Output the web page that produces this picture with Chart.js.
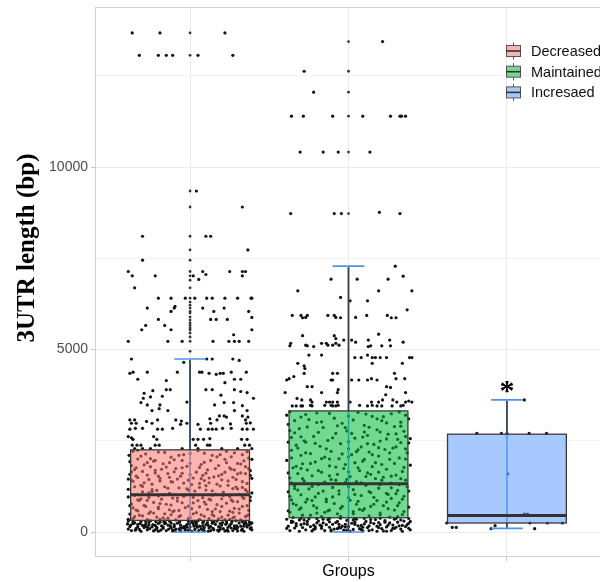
<!DOCTYPE html>
<html><head><meta charset="utf-8">
<script src="https://cdn.jsdelivr.net/npm/chart.js@4.4.0/dist/chart.umd.min.js"></script>
<style>html,body{margin:0;padding:0;background:#fff;overflow:hidden;width:600px;height:582px}
#wrap{position:absolute;left:0;top:0;width:606px;height:582px}</style>
</head><body><div id="wrap"><canvas id="c" width="606" height="582"></canvas></div>
<script>
const groups = ['Decreased', 'Maintained', 'Increased'];
const legendLabels = ['Decreased', 'Maintained', 'Incresaed'];
const q1 = [317, 391, 246];
const medians = [1020, 1321, 454];
const q3 = [2251, 3318, 2680];
const whiskerLow = [0, 0, 100];
const whiskerHigh = [4740, 7284, 3619];
const yTicks = [0, 2500, 5000, 7500, 10000, 12500];
const yLabelTicks = [0, 5000, 10000];
const yRange = [-685, 14385];
const xRange = [0.4, 3.6];
const significance = ['', '', '*'];

const decreasedOutliers = [13675, 13062, 9343, 8905, 8104, 7729, 7447, 7138, 7018, 6900, 6690, 6408, 6300, 6216, 6135, 6044, 6000, 5890, 5808, 5726, 5661, 5590, 5541, 5453, 5343, 5224, 4950];
const maintainedOutliers = [13437, 12625, 12050, 11394, 10410, 8725];
const increasedOutliers = [];

// [horizontal jitter offset, 3'UTR length]
const decreasedPoints = [
[-.365,13675],[-.19,13675],[.22,13675],[-.32,13062],[-.2,13062],[-.15,13062],[-.11,13062],[.05,13062],[.27,13062],
[.04,9343],[.33,8905],[-.3,8104],[.1,8104],[.13,8104],[.365,7729],[-.3,7447],
[-.39,7138],[.08,7138],[.25,7138],[.33,7138],[.35,7138],[-.365,7018],[-.22,7018],[.02,7018],[.33,7018],[.1,7056],[.055,6920],[-.35,6690],
[-.2,6408],[-.12,6408],[-.03,6408],[.03,6408],[.105,6408],[.14,6408],[.22,6408],[.3,6408],[.385,6408],[.39,6408],
[-.27,6135],[-.1,6135],[-.095,6180],[.08,6135],[.215,6135],[-.12,6044],[.15,6044],[.37,6044],
[-.2,5825],[.13,5825],[.165,5825],[.235,5825],[.39,5880],[-.28,5661],[-.16,5661],[-.305,5541],[-.12,5541],[.39,5541],[.275,5404],
[-.39,5224],[-.14,5224],[-.05,5224],[.145,5224],[.245,5224],[.28,5224],[.31,5224],[.37,5224],
[-.37,4740],[.105,4740],[.14,4740],[.27,4740],[.31,4700],[-.04,4650],
[-.38,4349],[-.36,4380],[-.27,4380],[-.08,4380],[.06,4380],[.075,4380],[.12,4349],[.165,4320],[.19,4349],[.21,4349],[.26,4380],[.355,4380],
[-.33,4185],[-.15,4150],[.28,4185],[.32,4185],[.22,4092],
[-.235,3873],[-.15,3900],[-.125,3900],[.1,3900],[.14,3900],[.28,3900],[.32,3850],[.36,3820],
[-.29,3802],[-.25,3700],[-.175,3720],[.195,3750],[-.295,3665],[.4,3665],
[-.31,3545],[-.02,3560],[.215,3545],[.275,3545],[-.27,3482],[-.19,3482],[.155,3482],[.33,3460],
[-.24,3327],[-.195,3380],[-.14,3327],[.28,3327],[.36,3327],[.185,3181],[.215,3181],[.23,3150],[.33,3181],[.365,3150],
[-.38,3071],[-.35,3071],[-.275,3030],[-.205,3071],[-.09,3071],[-.055,3040],[.125,3100],[.17,3071],[.35,3071],
[-.37,2980],[-.34,2980],[-.24,2980],[-.06,2950],[-.02,2980],[.05,2950],[.13,2980],[.255,2960],[.355,2980],[.38,2990],
[-.38,2817],[-.345,2840],[-.3,2840],[-.205,2817],[-.175,2817],[-.11,2840],[.065,2817],[.115,2817],[.14,2817],[.165,2817],[.205,2840],[.26,2840],[.33,2817],[.36,2817],[.4,2817],
[-.39,2615],[-.37,2580],[-.36,2540],[-.23,2615],[-.21,2540],[.02,2540],[.05,2540],[.085,2540],[.125,2560],[.325,2540],[.36,2540],
[-.365,2380],[-.335,2380],[-.31,2380],[-.22,2380],[-.195,2380],[.035,2380],[.11,2380],[.125,2380],[.345,2380],[.375,2380],
[-.35,2287],[-.3,2287],[-.25,2287],[-.05,2287],[.05,2287],[.2,2287],[.3,2287],[.39,2287],
[-.36,2210],[-.2,2190],[.05,2230],[.28,2170],[.33,2120],[-.31,2080],[-.12,2050],[.14,2100],[-.25,2010],[.22,1990],[.37,2030],[-.05,1960],
[-.38,1930],[.09,1910],[.3,1880],[-.17,1870],[-.29,1840],[.18,1820],[-.02,1800],[.35,1790],[-.34,1760],[-.09,1740],[.26,1720],[.11,1700],
[-.22,1690],[-.37,1650],[.04,1640],[.32,1620],[-.14,1600],[.2,1580],[-.27,1560],[.38,1550],[-.06,1530],[.15,1510],[-.33,1490],[-.19,1470],
[.07,1460],[.29,1440],[-.01,1420],[.24,1400],[-.36,1390],[-.11,1370],[.12,1350],[.36,1330],[-.24,1310],[.01,1300],[-.31,1280],[.19,1260],
[-.16,1240],[.33,1220],[-.07,1210],[.27,1190],[-.39,1170],[.1,1150],[-.21,1140],[.03,1120],[-.3,1100],[.21,1090],[.39,1070],[-.13,1060],
[.16,1040],[-.35,1000],[-.04,980],[.25,970],[-.26,950],[.08,940],[.34,920],[-.18,900],[.13,880],[-.32,860],[-.08,850],[.3,830],
[-.23,810],[.02,800],[.23,790],[-.37,770],[.17,750],[-.12,740],[.36,720],[-.28,700],[.06,690],[-.03,670],[.28,650],[-.2,640],
[.11,620],[-.34,600],[.37,590],[-.1,580],[.19,560],[-.25,550],[.04,530],[.31,520],[-.16,500],[-.38,490],[.14,480],[.24,460],
[-.06,450],[-.3,440],[.09,430],[.35,420],[-.21,410],[0,400],[.27,390],[-.14,380],[-.36,370],[.18,360],[.06,350],[-.27,340],[.32,335],[-.09,330],
[-.33,2240],[0,2150],[.17,2060],[-.1,1980],[.34,1950],[-.27,1900],[.07,1850],[-.15,1780],[.25,1760],[-.35,1710],[.38,1680],[-.05,1610],
[.3,1590],[-.2,1530],[.12,1480],[-.39,1450],[.2,1430],[-.12,1380],[.06,1330],[-.3,1250],[.29,1230],[-.02,1180],[.35,1160],[-.24,1110],
[.14,1010],[-.17,1020],[.38,960],[-.08,930],[.2,910],[-.33,880],[.05,860],[.27,840],[-.19,780],[.1,760],[-.29,730],[.33,700],
[-.01,710],[-.36,660],[.16,630],[-.13,610],[.25,570],[-.23,520],[.02,500],[.37,470],[-.32,460],[.15,440],[-.07,420],[.28,410],
[-.17,390],[.12,370],[-.39,350],[.22,340],[-.22,1960],[.1,1270],[-.26,1070],[.31,1030],[-.11,560],[.08,1550],[-.04,2120],[.23,2210],
[-.385,2100],[-.28,2140],[-.16,2180],[-.07,2100],[.09,2160],[.19,2120],[.26,2060],[.36,2200],
[-.33,2000],[-.23,1940],[-.13,1900],[0,1880],[.13,1960],[.23,1900],[.32,1860],[.39,1990],
[-.37,1820],[-.25,1790],[-.05,1760],[.06,1770],[.16,1740],[.28,1700],[.37,1740],[-.18,1720],
[-.3,1660],[-.1,1650],[.1,1610],[.22,1640],[.35,1600],[-.38,1580],[-.22,1620],[0,1570],
[-.34,1530],[-.13,1500],[.02,1480],[.18,1540],[.27,1500],[.39,1470],[-.26,1440],[-.08,1450],
[-.37,1420],[-.19,1400],[.09,1410],[.33,1380],[-.29,1350],[-.04,1340],[.17,1310],[.24,1280],
[-.35,1240],[-.14,1200],[.06,1220],[.3,1180],[-.24,1160],[-.01,1150],[.14,1130],[.36,1110],
[-.39,960],[-.2,990],[.02,950],[.21,1000],[.33,960],[-.11,930],[-.31,910],[.12,900],
[-.27,870],[.09,820],[.26,880],[-.05,800],[.38,860],[-.15,760],[-.38,720],[.2,700],
[-.2,680],[.01,640],[.31,630],[-.33,580],[-.07,590],[.14,560],[.27,540],[-.26,510],
[.07,470],[-.12,470],[.36,450],[-.35,420],[.2,410],[-.01,370],[.25,350],[-.19,350],
[-.39,300],[-.35,250],[-.31,290],[-.28,210],[-.25,310],[-.22,180],[-.19,270],[-.16,230],[-.13,300],[-.1,200],[-.07,260],[-.04,150],
[-.01,290],[.02,220],[.05,310],[.08,170],[.11,260],[.14,240],[.17,300],[.2,190],[.23,280],[.26,230],[.29,310],[.32,160],[.35,270],[.38,220],
[-.38,150],[-.34,100],[-.3,180],[-.27,60],[-.24,140],[-.21,90],[-.18,170],[-.15,40],[-.12,120],[-.09,80],[-.06,190],[-.03,50],
[0,140],[.03,70],[.06,160],[.09,30],[.12,110],[.15,60],[.18,150],[.21,90],[.24,130],[.27,40],[.3,120],[.33,80],[.36,140],[.39,60],
[-.37,40],[-.33,210],[-.29,120],[-.26,260],[-.23,30],[-.2,230],[-.17,100],[-.14,190],[-.11,60],[-.08,240],[-.05,110],[-.02,200],
[.01,20],[.04,250],[.07,90],[.1,200],[.13,40],[.16,210],[.19,120],[.22,30],[.25,180],[.28,100],[.31,250],[.34,20],[.37,190],
[-.395,220],[-.36,280],[-.32,70],[-.285,160],[-.255,90],[-.215,280],[-.185,50],[-.155,250],[-.125,170],[-.095,30],[-.065,290],[-.035,100],
[-.005,230],[.025,160],[.055,40],[.085,290],[.115,180],[.145,100],[.175,50],[.205,260],[.235,60],[.265,290],[.295,170],[.325,50],[.355,210],[.385,120],
[-.375,190],[-.345,50],[-.315,230],[-.27,130],[-.235,200],[-.2,20],[-.165,280],[-.135,80],[-.1,150],[-.06,30],[-.025,170],[.01,270],
[.045,130],[.08,250],[.115,20],[.15,280],[.19,70],[.225,210],[.26,110],[.3,30],[.34,230],[.375,270],
[-.39,80],[-.33,150],[-.28,290],[-.22,60],[-.17,140],[-.12,250],[-.07,80],[-.02,130],[.03,290],[.08,60],[.13,150],[.18,20],[.23,240],[.28,170],[.33,290],[.38,90],
[-.36,230],[-.31,20],[-.26,190],[-.21,130],[-.16,310],[-.11,30],[-.06,120],[-.01,50],[.04,190],[.09,120],[.14,300],[.19,230],[.24,20],[.29,90],[.34,160],[.39,250]
];

const maintainedPoints = [
[.215,13437],[-.28,12625],[-.22,12050],
[-.36,11394],[-.285,11394],[-.1,11394],[.09,11394],[.265,11394],[.325,11394],[.335,11394],[.36,11394],
[-.305,10410],[-.16,10410],[-.065,10410],[.135,10410],
[-.365,8725],[-.09,8725],[-.045,8725],[.195,8760],[.325,8725],
[.295,7284],[.345,7010],[-.11,6928],[.055,6928],[.25,6928],[-.32,6608],[.19,6608],[.4,6608],[-.05,6427],[.01,6335],[.12,6335],[.37,6088],
[-.355,5935],[-.3,5935],[-.26,5935],[-.13,5935],[-.09,5935],[-.08,5880],[.045,5880],[.115,5935],[.245,5935],
[-.29,5870],[-.27,5880],[-.05,5870],[.27,5870],[.3,5870],
[-.29,5378],[-.09,5378],[-.08,5300],[-.03,5260],[.02,5260],[.125,5260],[.19,5420],[.26,5260],
[-.365,5169],[-.37,5100],[-.27,5120],[-.26,5100],[-.22,5080],[-.17,5169],[-.14,5169],[-.13,5120],[-.1,5120],[-.08,5169],[-.06,5120],
[.045,5200],[.125,5080],[.14,5100],[.21,5100],[.265,5100],[.345,5200],
[-.25,4849],[-.17,4849],[.04,4780],[.08,4780],[.12,4849],[.15,4780],[.17,4780],[.2,4780],[.24,4780],[.385,4780],[.4,4780],
[-.32,4622],[-.28,4550],[-.275,4480],[.15,4622],[.34,4622],[-.28,4349],[-.1,4349],[-.07,4349],[.29,4349],
[-.39,4165],[-.375,4200],[-.345,4260],[-.11,4165],[-.1,4165],[.02,4165],[.065,4165],[.12,4165],[.145,4200],[.18,4165],[.3,4200],[.355,4200],
[-.26,3983],[-.23,3983],[-.065,3900],[.24,3983],[.265,3960],[-.4,3819],[-.17,3819],[-.07,3819],[.235,3760],[.36,3819],
[-.325,3660],[-.295,3618],[-.24,3618],[-.23,3560],[-.14,3560],[-.12,3560],[-.1,3560],[-.07,3560],[.01,3560],[.145,3560],[.19,3560],[.215,3618],
[.28,3618],[.305,3560],[.36,3560],[.38,3590],[.4,3560],
[-.355,3454],[-.33,3454],[-.3,3454],[-.29,3454],[-.24,3470],[-.23,3454],[-.15,3470],[-.11,3470],[-.1,3454],[-.08,3454],[-.065,3470],
[.07,3470],[.12,3454],[.15,3470],[.18,3454],[.21,3454],[.275,3454],[.33,3454],[.345,3470],
[-.37,3290],[-.2,3260],[.06,3280],[.27,3240],[.36,3200],[-.3,3150],[-.09,3120],[.15,3170],[-.25,3080],[.21,3050],[.33,3010],[-.04,2980],
[-.38,2950],[.1,2920],[.29,2890],[-.16,2860],[-.31,2830],[.18,2800],[-.01,2770],[.35,2760],[-.34,2720],[-.08,2700],[.25,2680],[.12,2650],
[-.22,2620],[-.36,2590],[.04,2570],[.31,2540],[-.13,2510],[.2,2490],[-.27,2460],[.38,2440],[-.05,2420],[.16,2400],[-.33,2380],[-.18,2350],
[.08,2330],[.28,2300],[0,2280],[.23,2260],[-.36,2240],[-.11,2210],[.13,2190],[.37,2170],[-.24,2150],[.02,2120],[-.3,2100],[.19,2080],
[-.15,2050],[.32,2030],[-.06,2010],[.26,1990],[-.39,1960],[.09,1940],[-.21,1920],[.04,1900],[-.29,1870],[.21,1850],[.39,1830],[-.12,1810],
[.15,1790],[-.35,1760],[-.03,1740],[.24,1720],[-.26,1700],[.07,1680],[.34,1660],[-.17,1640],[.12,1620],[-.32,1600],[-.07,1580],[.3,1560],
[-.23,1540],[.01,1520],[.22,1500],[-.37,1480],[.17,1460],[-.11,1440],[.36,1420],[-.28,1400],[.05,1380],[-.02,1360],[.27,1340],
[-.19,1300],[.11,1280],[-.34,1260],[.37,1240],[-.1,1220],[.19,1200],[-.25,1180],[.03,1160],[.31,1140],[-.16,1120],[-.38,1100],[.14,1080],
[.24,1060],[-.06,1040],[-.3,1020],[.08,1000],[.35,980],[-.21,960],[0,940],[.27,920],[-.14,900],[-.36,880],[.18,860],[.06,840],
[-.27,820],[.32,800],[-.09,780],[.16,760],[-.33,740],[.22,720],[-.04,700],[.38,680],[-.2,660],[.1,640],[-.31,620],[.29,600],
[-.13,580],[.03,560],[-.37,540],[.2,520],[-.07,500],[.34,480],[-.24,460],[.13,440],[-.17,420],[.26,410],[-.35,400],
[-.2,3000],[.1,2740],[-.28,2500],[.3,2330],[-.12,2000],[.14,1580],[-.08,1420],[.32,1300],[-.23,860],[.07,620],[-.02,2860],[.18,3100],
[-.34,1190],[.25,1030],[-.15,540],[.36,2620],[-.3,1740],[.05,2200],
[-.39,3200],[-.27,3220],[-.12,3250],[0,3180],[.11,3230],[.22,3160],[.32,3290],[-.34,3050],
[-.17,3020],[.03,3070],[.24,2990],[.38,3100],[-.26,2880],[-.07,2910],[.13,2870],[.33,2900],
[-.37,2780],[-.19,2730],[.02,2700],[.2,2740],[.3,2690],[-.3,2610],[-.1,2580],[.09,2600],
[.24,2550],[.39,2560],[-.38,2460],[-.21,2430],[0,2470],[.12,2420],[.33,2450],[-.32,2300],
[-.14,2280],[.06,2250],[.19,2310],[.36,2280],[-.27,2170],[-.04,2140],[.15,2120],[.26,2170],
[-.36,2030],[-.17,2010],[0,2060],[.1,1990],[.36,2000],[-.24,1880],[-.02,1850],[.17,1900],
[.29,1880],[-.33,1800],[-.08,1780],[.06,1760],[.35,1770],[-.19,1680],[0,1650],[.19,1640],
[-.38,1620],[-.12,1540],[.11,1520],[.27,1530],[-.29,1460],[-.01,1440],[.21,1420],[.33,1460],
[-.36,1350],[-.15,1370],[.08,1350],[.2,1300],[-.23,1250],[0,1240],[.27,1210],[-.32,1150],
[-.06,1130],[.13,1110],[.38,1120],[-.19,1060],[.04,1030],[.3,1050],[-.37,980],[-.1,960],
[.16,950],[-.26,900],[.01,870],[.34,900],[-.14,830],[.24,820],[-.35,780],[.05,760],
[-.22,720],[.14,700],[.31,720],[-.05,650],[-.3,660],[.25,640],[-.12,600],[.09,590],
[-.38,580],[.35,560],[-.2,520],[.03,500],[.2,470],[-.29,460],[-.05,430],[.31,420],
[-.39,350],[-.35,280],[-.31,330],[-.28,230],[-.25,360],[-.22,190],[-.19,300],[-.16,250],[-.13,340],[-.1,210],[-.07,290],[-.04,160],
[-.01,320],[.02,240],[.05,350],[.08,180],[.11,290],[.14,260],[.17,340],[.2,200],[.23,310],[.26,250],[.29,350],[.32,170],[.35,300],[.38,240],
[-.38,160],[-.34,110],[-.3,200],[-.27,60],[-.24,150],[-.21,90],[-.18,190],[-.15,40],[-.12,130],[-.09,80],[-.06,210],[-.03,50],
[0,150],[.03,70],[.06,170],[.09,30],[.12,120],[.15,60],[.18,160],[.21,90],[.24,140],[.27,40],[.3,130],[.33,80],[.36,150],[.39,60],
[-.37,40],[-.33,230],[-.29,120],[-.26,290],[-.23,30],[-.2,250],[-.17,100],[-.14,200],[-.11,60],[-.08,260],[-.05,110],[-.02,210],
[.01,20],[.04,270],[.07,90],[.1,220],[.13,40],[.16,230],[.19,120],[.22,30],[.25,190],[.28,100],[.31,270],[.34,20],[.37,200],
[-.36,300],[-.3,380],[-.2,370],[-.12,375],[-.05,380],[.04,370],[.1,375],[.2,380],[.3,375],[.38,370],
[-.39,100],[-.33,170],[-.28,330],[-.22,70],[-.17,160],[-.12,280],[-.07,90],[-.02,140],[.03,330],[.08,70],[.13,170],[.18,20],[.23,270],[.28,190],[.33,330],[.38,100],
[-.36,260],[-.31,20],[-.26,210],[-.21,140],[-.16,350],[-.11,30],[-.06,130],[-.01,50],[.04,210],[.09,130],[.14,340],[.19,260],[.24,20],[.29,100],[.34,180],[.39,290]
];

const increasedPoints = [
[-.19,2700],[-.035,2700],[0,2700],[.14,2700],[.25,2700],[.11,3619],[.005,1594],[.11,490],[.13,490],
[-.38,246],[.145,246],[.255,246],[.35,246],[-.345,126],[-.32,126],[-.075,172],[-.1,90],[.175,90]
];

const groupColors = ['#F8766D', '#00BA38', '#619CFF'];
const boxAlpha = 0.55;
const boxWidth = 0.75;
const capWidth = 0.2;

function hexA(hex, a) {
  const n = parseInt(hex.slice(1), 16);
  return `rgba(${(n >> 16) & 255},${(n >> 8) & 255},${n & 255},${a})`;
}

const pointSets = [decreasedPoints, maintainedPoints, increasedPoints];
const outlierSets = [decreasedOutliers, maintainedOutliers, increasedOutliers];
const datasets = [];
pointSets.forEach((pts, i) => {
  datasets.push({
    label: groups[i] + ' points',
    data: pts.map(p => ({ x: i + 1 + p[0], y: p[1] })),
    pointRadius: 1.6, pointBackgroundColor: '#111', pointBorderWidth: 0, showLine: false
  });
});
outlierSets.forEach((o, i) => {
  datasets.push({
    label: groups[i] + ' outliers',
    data: o.map(v => ({ x: i + 1, y: v })),
    pointRadius: 1.4, pointBackgroundColor: '#333', pointBorderWidth: 0, showLine: false
  });
});

const boxPlugin = {
  id: 'boxes',
  afterDatasetsDraw(chart) {
    const ctx = chart.ctx, xs = chart.scales.x, ys = chart.scales.y;
    const a = chart.chartArea;
    ctx.save();
    ctx.beginPath(); ctx.rect(a.left, a.top, a.right - a.left, a.bottom - a.top); ctx.clip();
    groups.forEach((g, i) => {
      const c = i + 1;
      const cx = xs.getPixelForValue(c);
      const bl = xs.getPixelForValue(c - boxWidth / 2), br = xs.getPixelForValue(c + boxWidth / 2);
      const cl = xs.getPixelForValue(c - capWidth / 2), cr = xs.getPixelForValue(c + capWidth / 2);
      const yLo = ys.getPixelForValue(whiskerLow[i]), yHi = ys.getPixelForValue(whiskerHigh[i]);
      const y1 = ys.getPixelForValue(q1[i]), y3 = ys.getPixelForValue(q3[i]), ym = ys.getPixelForValue(medians[i]);
      ctx.strokeStyle = '#4f93e6'; ctx.lineWidth = 1.6;
      ctx.beginPath();
      ctx.moveTo(cx, yLo); ctx.lineTo(cx, yHi);
      ctx.moveTo(cl, yLo); ctx.lineTo(cr, yLo);
      ctx.moveTo(cl, yHi); ctx.lineTo(cr, yHi);
      ctx.stroke();
      ctx.strokeStyle = '#34404e'; ctx.lineWidth = 1.6;
      ctx.beginPath();
      ctx.moveTo(cx, y3); ctx.lineTo(cx, yHi + 1);
      ctx.moveTo(cx, y1); ctx.lineTo(cx, yLo - 1);
      ctx.stroke();
      ctx.fillStyle = hexA(groupColors[i], boxAlpha);
      ctx.fillRect(bl, y3, br - bl, y1 - y3);
      ctx.strokeStyle = '#3a3a3a'; ctx.lineWidth = 1.3;
      ctx.strokeRect(bl, y3, br - bl, y1 - y3);
      ctx.strokeStyle = '#333'; ctx.lineWidth = 3;
      ctx.beginPath(); ctx.moveTo(bl, ym); ctx.lineTo(br, ym); ctx.stroke();
    });
    ctx.restore();
  }
};

const textPlugin = {
  id: 'texts',
  afterDraw(chart) {
    const ctx = chart.ctx, xs = chart.scales.x, ys = chart.scales.y, a = chart.chartArea;
    ctx.save();
    ctx.strokeStyle = '#d2d2d2'; ctx.lineWidth = 1;
    ctx.strokeRect(a.left + 0.5, a.top + 0.5, a.right - a.left - 1, a.bottom - a.top - 1);
    ctx.fillStyle = '#000'; ctx.font = 'bold 30px "Liberation Serif"';
    ctx.textAlign = 'center'; ctx.textBaseline = 'alphabetic';
    significance.forEach((s, i) => {
      if (!s) return;
      ctx.fillText(s, xs.getPixelForValue(i + 1), ys.getPixelForValue(whiskerHigh[i]));
    });
    ctx.font = '16px "Liberation Sans"'; ctx.textBaseline = 'middle';
    ctx.fillText('Groups', xs.getPixelForValue(2), 572);
    ctx.save();
    ctx.translate(28, 248); ctx.rotate(-Math.PI / 2);
    ctx.font = 'bold 25px "Liberation Serif"';
    ctx.fillText('3UTR length (bp)', 0, 0);
    ctx.restore();
    legendLabels.forEach((lab, k) => {
      const cy = 51 + k * 20.7, x0 = 506, w = 15;
      ctx.strokeStyle = '#555'; ctx.lineWidth = 1;
      ctx.beginPath();
      ctx.moveTo(x0 + w / 2, cy - 8.5); ctx.lineTo(x0 + w / 2, cy - 5.5);
      ctx.moveTo(x0 + w / 2, cy + 5.5); ctx.lineTo(x0 + w / 2, cy + 8.5);
      ctx.stroke();
      ctx.fillStyle = hexA(groupColors[k], boxAlpha);
      ctx.fillRect(x0, cy - 5.5, w, 11);
      ctx.strokeRect(x0 + 0.5, cy - 5.5, w - 1, 11);
      ctx.strokeStyle = '#333'; ctx.lineWidth = 1.6;
      ctx.beginPath(); ctx.moveTo(x0, cy); ctx.lineTo(x0 + w, cy); ctx.stroke();
      ctx.fillStyle = '#111'; ctx.font = '14.5px "Liberation Sans"';
      ctx.textAlign = 'left'; ctx.textBaseline = 'middle';
      ctx.fillText(lab, 531, cy + 1);
    });
    ctx.restore();
  }
};

Chart.defaults.font.family = '"Liberation Sans", Arial, sans-serif';
new Chart(document.getElementById('c'), {
  type: 'scatter',
  data: { datasets },
  plugins: [boxPlugin, textPlugin],
  options: {
    responsive: false, animation: false, devicePixelRatio: 1, events: [],
    layout: { padding: { top: 7, right: 3, left: 0, bottom: 0 } },
    plugins: { legend: { display: false }, tooltip: { enabled: false } },
    scales: {
      x: {
        type: 'linear', min: xRange[0], max: xRange[1],
        afterBuildTicks: s => { s.ticks = groups.map((g, i) => ({ value: i + 1 })); },
        afterFit: s => { s.height = 25; s.paddingLeft = 0; s.paddingRight = 0; },
        ticks: { display: false },
        grid: { color: '#ebebeb', lineWidth: 1, tickLength: 4, tickColor: '#c8c8c8' },
        border: { display: false }
      },
      y: {
        type: 'linear', min: yRange[0], max: yRange[1],
        afterBuildTicks: s => { s.ticks = yTicks.map(v => ({ value: v })); },
        afterFit: s => { s.width = 95; s.paddingTop = 0; s.paddingBottom = 0; },
        ticks: {
          font: { size: 14 }, color: '#4d4d4d', padding: 3,
          callback: v => yLabelTicks.includes(v) ? String(v) : ''
        },
        grid: {
          color: c => yLabelTicks.includes(c.tick && c.tick.value) ? '#ebebeb' : '#f3f3f3',
          lineWidth: 1, tickLength: 4,
          tickColor: c => yLabelTicks.includes(c.tick && c.tick.value) ? '#c8c8c8' : 'rgba(0,0,0,0)'
        },
        border: { display: false }
      }
    }
  }
});
</script></body></html>
